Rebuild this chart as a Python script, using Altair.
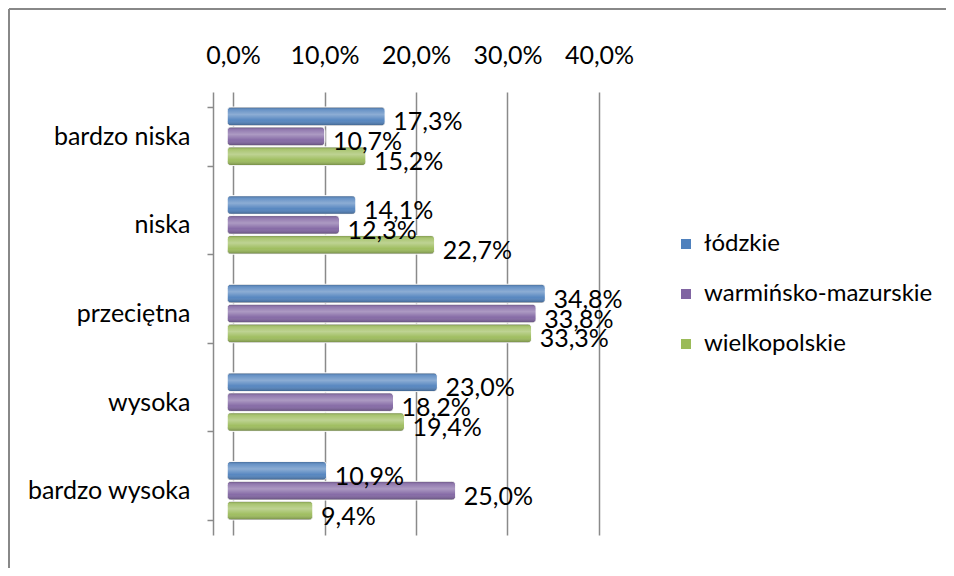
import altair as alt
import pandas as pd

categories = ["bardzo niska", "niska", "przeciętna", "wysoka", "bardzo wysoka"]
series = ["łódzkie", "warmińsko-mazurskie", "wielkopolskie"]
lodzkie = [17.3, 14.1, 34.8, 23.0, 10.9]
warminsko = [10.7, 12.3, 33.8, 18.2, 25.0]
wielkopolskie = [15.2, 22.7, 33.3, 19.4, 9.4]
colors = ["#4F81BD", "#8064A2", "#9BBB59"]
tick_values = [0.0, 0.1, 0.2, 0.3, 0.4]

rows = []
for s, vals in zip(series, [lodzkie, warminsko, wielkopolskie]):
    for c, v in zip(categories, vals):
        rows.append({"kategoria": c, "seria": s, "wartosc": v / 100,
                     "etykieta": f"{v:.1f}".replace(".", ",") + "%"})
df = pd.DataFrame(rows)

FONT = "Lato"
FS = 25

x_enc = alt.X("wartosc:Q",
              scale=alt.Scale(domain=[0, 0.4], nice=False),
              axis=alt.Axis(orient="top", values=tick_values,
                            labelExpr="replace(format(datum.value, '.1%'), '.', ',')",
                            grid=True, gridColor="#8a8a8a", gridWidth=1.5,
                            tickOffset=6,
                            domain=False, ticks=False, labelPadding=24,
                            labelFlush=False, labelOverlap=False, labelBound=False,
                            labelFontSize=FS, labelFont=FONT, labelColor="#000",
                            title=None))
y_enc = alt.Y("kategoria:N", sort=categories,
              scale=alt.Scale(paddingInner=0.34, paddingOuter=0.17),
              axis=alt.Axis(title=None, offset=14, tickBand="extent", tickSize=6,
                            domainColor="#8a8a8a", tickColor="#8a8a8a",
                            domainWidth=1.5, tickWidth=1.5,
                            labelPadding=17, labelFontSize=FS, labelFont=FONT,
                            labelColor="#000", labelLimit=0))
yoff = alt.YOffset("seria:N", sort=series, scale=alt.Scale(paddingInner=0.06))

base = alt.Chart(df)

bars = base.mark_bar(stroke="white", strokeWidth=1, cornerRadius=4).encode(
    x=x_enc, y=y_enc, yOffset=yoff,
    color=alt.Color("seria:N", sort=series,
                    scale=alt.Scale(domain=series, range=colors),
                    legend=alt.Legend(title=None, orient="none", legendX=447, legendY=140,
                                      symbolType="square", symbolSize=100,
                                      symbolStrokeWidth=0, labelFontSize=24,
                                      labelFont=FONT, labelColor="#000",
                                      labelLimit=0, rowPadding=26, labelOffset=6)))

shade = base.mark_bar(cornerRadius=4, fill=alt.Gradient(
    gradient="linear", x1=0, y1=0, x2=0, y2=1,
    stops=[alt.GradientStop(offset=0, color="rgba(0,0,0,0.25)"),
           alt.GradientStop(offset=0.15, color="rgba(255,255,255,0.15)"),
           alt.GradientStop(offset=0.4, color="rgba(255,255,255,0.35)"),
           alt.GradientStop(offset=0.7, color="rgba(255,255,255,0.05)"),
           alt.GradientStop(offset=1, color="rgba(0,0,0,0.3)")])).encode(
    x="wartosc:Q", y=alt.Y("kategoria:N", sort=categories), yOffset=yoff)

labels = base.mark_text(align="left", baseline="middle", dx=8, dy=6,
                        fontSize=FS, font=FONT, color="#000").encode(
    x="wartosc:Q", y=alt.Y("kategoria:N", sort=categories), yOffset=yoff,
    text="etykieta:N")

border_top = alt.Chart(df).mark_rule(color="#888888", strokeWidth=2).encode(
    x=alt.value(-218), x2=alt.value(730), y=alt.value(-83))
border_left = alt.Chart(df).mark_rule(color="#888888", strokeWidth=2).encode(
    x=alt.value(-218), y=alt.value(-83), y2=alt.value(480))

chart = alt.layer(bars, shade, labels, border_top, border_left).properties(
    width=366, height=443,
    autosize=alt.AutoSizeParams(type="none"),
    padding={"left": 219, "top": 84, "right": 353, "bottom": 33},
).configure_view(stroke=None)

chart.save("out.html", embed_options={"renderer": "svg", "actions": False})
